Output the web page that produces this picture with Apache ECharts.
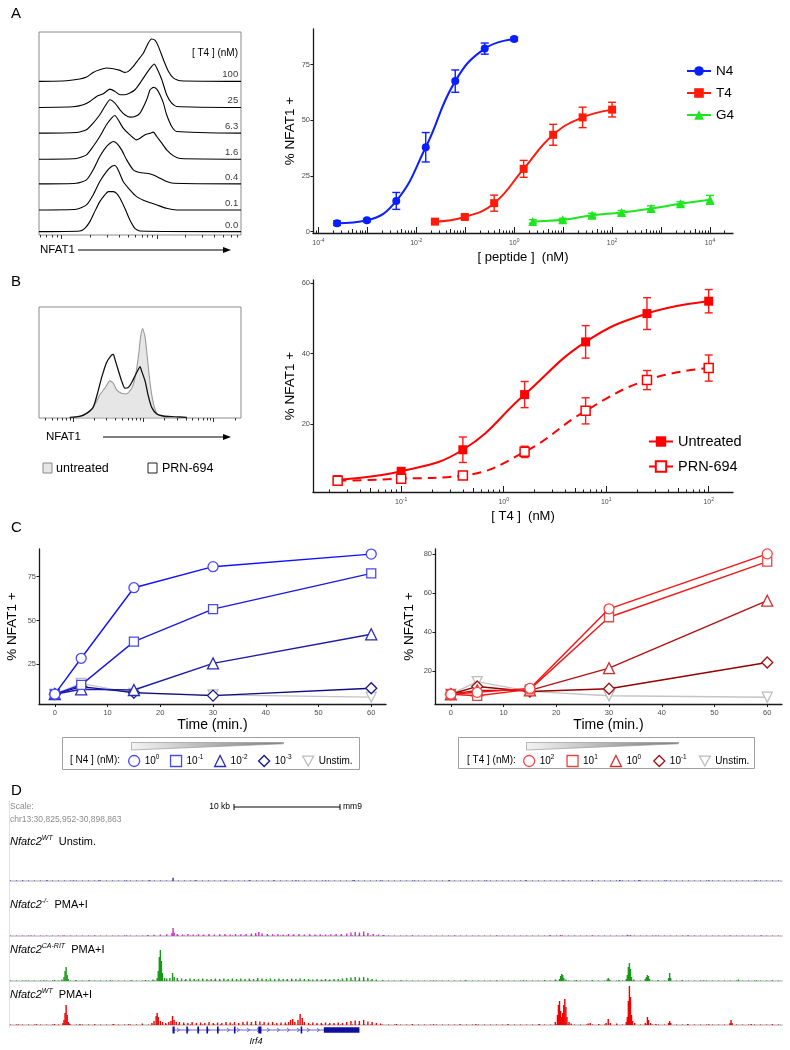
<!DOCTYPE html>
<html>
<head>
<meta charset="utf-8">
<title>NFAT1</title>
<script src="https://cdn.jsdelivr.net/npm/echarts/dist/echarts.min.js"></script>
<style>
  html, body { margin: 0; padding: 0; background: #fff; }
  #main { width: 790px; height: 1050px; }
</style>
</head>
<body>
<div id="main"></div>
<script>
// ---------- data ----------
// A: NFAT1 histograms (log channel 0-100, counts) per [T4] dose
var histDoses = ['100', '25', '6.3', '1.6', '0.4', '0.1', '0.0'];
var hist100 = [[13.6,2],[20.2,7],[23.5,13],[26.8,27],[30.1,35],[33.4,40],[36.8,38],[40.1,33],[42.5,27],[44.2,30],[46.7,45],[49.2,65],[51.7,85],[54.1,115],[55.8,127],[57.5,123],[59.1,105],[61.6,65],[64.1,30],[66.6,10],[69.9,2]];
var hist25 = [[16.9,2],[21.9,8],[25.2,18],[28.5,33],[31.8,41],[35.1,55],[37.6,48],[40.1,38],[42.5,38],[45.0,43],[47.5,53],[50.0,73],[53.3,103],[55.8,123],[57.0,130],[58.3,118],[60.8,83],[63.2,38],[65.7,13],[68.2,3]];
var hist6 = [[18.5,2],[23.5,10],[26.8,30],[30.1,55],[32.6,80],[35.1,100],[37.6,90],[40.1,70],[42.5,55],[45.0,48],[47.5,50],[50.0,60],[53.3,100],[55.0,130],[56.6,137],[58.3,132],[59.9,115],[61.6,90],[63.2,55],[65.7,20],[68.2,5]];
var hist16 = [[18.5,2],[23.5,13],[26.8,38],[30.1,68],[33.4,103],[35.9,123],[37.6,131],[39.2,118],[41.7,93],[45.0,73],[48.3,58],[50.0,63],[52.5,73],[55.0,78],[56.6,81],[58.3,68],[60.8,48],[63.2,28],[66.6,10],[69.9,2]];
var hist04 = [[18.5,2],[23.5,12],[26.8,42],[30.1,82],[33.4,112],[36.8,127],[38.4,122],[40.9,102],[43.4,72],[46.7,42],[50.0,34],[53.3,32],[56.6,27],[59.9,17],[63.2,7],[66.6,2]];
var hist01 = [[18.5,2],[23.5,15],[26.8,45],[30.1,85],[33.4,115],[35.9,130],[37.6,133],[39.2,120],[41.7,85],[45.0,60],[48.3,40],[53.3,25],[58.3,15],[63.2,5],[68.2,0]];
var hist00 = [[20.2,2],[22.7,10],[25.2,30],[27.6,60],[30.1,90],[32.6,110],[34.3,120],[36.8,120],[38.4,115],[40.1,100],[42.5,70],[45.0,35],[47.5,10],[50.0,2]];
var histA = [hist100, hist25, hist6, hist16, hist04, hist01, hist00];

// A: dose response (% NFAT1+ vs peptide nM)
var n4Conc = [0.00024, 0.00098, 0.0039, 0.0156, 0.0625, 0.25, 1];
var n4Pct  = [3.8, 5.1, 13.8, 37.9, 67.6, 82.2, 86.5];
var n4Err  = [1.0, 0.7, 3.8, 6.6, 5.0, 2.5, 0.8];
var t4Conc = [0.024, 0.098, 0.39, 1.56, 6.25, 25, 100];
var t4Pct  = [4.5, 6.6, 12.8, 28.2, 43.5, 51.3, 54.8];
var t4Err  = [0.8, 1.0, 3.6, 3.8, 4.7, 4.6, 3.3];
var g4Conc = [2.4, 9.8, 39, 156, 625, 2500, 10000];
var g4Pct  = [4.6, 5.3, 7.4, 8.6, 10.4, 12.5, 14.3];
var g4Err  = [0.8, 0.7, 0.9, 0.9, 1.2, 0.9, 2.0];

// B: histograms untreated vs PRN-694
var histUntr = [[16.9,0],[21.9,6],[25.2,18],[28.5,48],[30.1,68],[32.6,88],[35.1,110],[36.8,103],[38.4,83],[40.9,73],[43.4,71],[45.9,88],[47.5,118],[49.2,183],[50.3,243],[51.3,268],[52.5,243],[53.6,183],[55.0,103],[56.6,43],[58.3,13],[60.8,3],[63.2,0]];
var histPrn = [[15.2,0],[20.2,3],[23.5,12],[26.8,30],[29.3,80],[31.0,120],[33.4,165],[35.9,188],[36.8,190],[37.6,175],[39.2,143],[40.9,110],[42.5,88],[44.2,90],[45.9,105],[47.5,125],[49.2,145],[50.0,153],[50.8,140],[52.5,110],[54.1,65],[55.8,30],[58.3,10],[61.6,4],[66.6,2],[73.2,0]];

// B: dose response
var bConc    = [0.024, 0.1, 0.4, 1.6, 6.3, 25, 100];
var untrPct  = [4.35, 6.7, 12.8, 28.4, 43.3, 51.3, 54.8];
var untrErr  = [0.5, 1.0, 3.6, 3.7, 4.6, 4.5, 3.3];
var prnPct   = [4.0, 4.6, 5.5, 12.2, 23.8, 32.5, 35.9];
var prnErr   = [0.5, 0.6, 0.5, 1.6, 3.7, 2.7, 3.7];

// C: time courses
var timeMin = [0, 5, 15, 30, 60];
var n4Names = ['10^0', '10^-1', '10^-2', '10^-3', 'Unstim.'];
var n4Time = [
  [7.9, 28.4, 68.7, 80.7, 87.9],
  [7.9, 13.2, 37.9, 56.5, 76.9],
  [7.9, 10.7, 10.3, 25.5, 42.1],
  [7.9, 12.2, 8.8, 7.1, 11.3],
  [7.9, 14.1, 8.4, 7.5, 6.2]
];
var t4Names = ['10^2', '10^1', '10^0', '10^-1', 'Unstim.'];
var t4Time = [
  [8.0, 9.0, 11.0, 51.8, 80.0],
  [8.0, 7.2, 10.5, 47.5, 76.0],
  [8.0, 10.0, 10.0, 21.4, 56.0],
  [8.0, 12.0, 9.4, 10.8, 24.3],
  [8.0, 14.5, 9.5, 7.2, 6.5]
];

// D: genome tracks, position in kb from chr13:30,825,952, signal
var regionKb = 72.911;
var trkWtUnstim = [[1.2,0.6],[3.5,0.8],[6.0,0.6],[8.4,0.8],[11.0,0.6],[13.2,0.8],[15.4,3.2],[17.5,0.8],[20.3,0.6],[22.6,0.8],[24.9,0.6],[27.0,0.8],[29.8,0.6],[32.5,0.9],[35.0,0.6],[38.2,0.6],[41.5,0.8],[45.0,0.6],[48.7,0.8],[52.3,0.6],[55.0,0.8],[57.6,0.9],[59.4,1.0],[62.0,0.6],[66.0,0.8],[70.5,0.6]];
var trkKo = [[2,0.6],[5,0.6],[8,0.6],[11,0.6],[13,1],[13.6,1.2],[14.2,1.5],[14.8,1.8],[15.3,3],[15.4,8],[15.5,3.5],[15.8,2],[16.3,1.5],[16.8,2],[17.3,1.5],[17.8,1.8],[18.3,1.5],[18.8,2],[19.3,1.5],[19.8,1.8],[20.3,2],[20.8,1.5],[21.3,2],[21.8,1.8],[22.3,2],[22.8,2.5],[23.2,3],[23.5,4],[23.8,2.5],[24.3,2],[24.8,1.8],[25.3,2],[25.8,1.5],[26.3,2],[26.8,1.8],[27.3,2],[27.8,1.5],[28.3,1.8],[28.8,1.5],[29.3,1.8],[29.8,1.5],[30.3,1.8],[30.8,2],[31.3,2],[31.8,2.5],[32.2,3.5],[32.6,4],[33.0,3.5],[33.4,4.5],[33.8,3],[34.3,2],[34.8,1.5],[35.3,1],[38,0.6],[42,0.6],[46,0.6],[51,1],[52,1],[55,0.6],[58.3,1.2],[58.6,1],[61,0.6],[64,0.6],[68,0.6],[71,0.6]];
var trkCaRit = [[1.5,0.6],[3.2,0.8],[4.2,1],[4.9,1.5],[5.1,4],[5.2,10],[5.3,14],[5.4,6],[5.5,2],[6.2,1],[7.5,0.6],[9.5,0.8],[11.5,0.8],[12.8,1],[13.5,1.5],[13.9,3],[14.0,10],[14.1,24],[14.2,31],[14.3,20],[14.4,8],[14.6,3],[14.8,2.5],[15.1,3],[15.35,8],[15.5,4],[15.8,3],[16.2,2.5],[16.6,2],[17.0,2.5],[17.4,2],[17.8,2],[18.2,2.5],[18.6,2],[19.0,2],[19.4,2.5],[19.8,2],[20.2,2.5],[20.6,2],[21.0,2.5],[21.4,2],[21.8,2.5],[22.2,2],[22.6,2.5],[23.0,2],[23.4,3],[23.8,2.5],[24.2,2],[24.6,2.5],[25.0,2],[25.4,2.5],[25.8,2],[26.2,2],[26.6,2.5],[27.0,2],[27.4,2.5],[27.8,2],[28.2,2],[28.6,1.5],[29.0,2],[29.4,1.5],[29.8,2],[30.2,1.5],[30.6,2],[31.0,2],[31.4,2.5],[31.8,3],[32.2,3.5],[32.6,4],[33.0,3.5],[33.4,4],[33.8,3],[34.2,2],[34.6,1.5],[35.2,1],[37,0.6],[40,0.6],[43,0.8],[46,0.6],[48.5,0.8],[50.5,1],[51.5,1.5],[51.9,2],[52.0,5],[52.1,7],[52.2,6],[52.3,3],[52.5,1.5],[53.5,1],[55,1],[56.4,1.5],[56.5,3],[56.6,1.5],[57.5,1],[58.2,2],[58.3,6],[58.4,14],[58.5,18],[58.6,12],[58.7,4],[58.9,1.5],[60.0,2],[60.1,4],[60.2,6],[60.3,5],[60.4,2],[61.2,1],[62.2,3],[62.3,8],[62.4,3],[63.5,0.8],[65.5,0.6],[68.8,1.5],[70.5,0.6],[72,0.6]];
var trkWtPma = [[0.8,0.6],[2.5,0.8],[4.2,1],[5.0,2],[5.1,5],[5.2,12],[5.3,20],[5.4,10],[5.5,3],[5.6,1.5],[6.6,1],[8.0,0.8],[9.8,1],[11.2,0.8],[12.5,1.5],[13.4,2],[13.6,4],[13.8,9],[13.9,12],[14.0,8],[14.2,4],[14.4,3],[14.7,2],[15.0,3],[15.2,4],[15.35,9],[15.5,5],[15.7,3],[16.0,3],[16.4,2.5],[16.8,2],[17.2,3],[17.6,2],[18.0,2.5],[18.4,2],[18.8,3],[19.2,2],[19.6,2.5],[20.0,2],[20.4,3],[20.8,2.5],[21.2,3],[21.6,2],[22.0,3],[22.4,3.5],[22.8,3],[23.2,4],[23.6,3.5],[24.0,3],[24.4,2.5],[24.8,3],[25.2,2],[25.6,2.5],[26.0,2.5],[26.3,3],[26.5,5],[26.7,6],[26.9,3],[27.2,5],[27.4,11],[27.6,7],[27.8,3],[28.2,2],[28.6,2.5],[29.0,2],[29.4,2],[29.8,2.5],[30.2,2],[30.6,2],[31.0,2.5],[31.4,2],[31.8,3],[32.2,4],[32.6,4.5],[33.0,4],[33.4,5],[33.8,3.5],[34.2,3],[34.6,2],[35.0,1.5],[36.5,1],[38.0,1],[40.0,0.8],[42.5,0.8],[44.0,1],[47.0,0.8],[50.0,1],[51.5,3],[51.7,10],[51.8,20],[51.9,24],[52.0,14],[52.1,8],[52.2,12],[52.3,20],[52.4,26],[52.5,18],[52.6,8],[52.8,3],[53.0,1.5],[54.6,1.5],[54.8,2],[55.6,1],[56.3,2],[56.5,6],[56.7,2],[57.3,1.5],[58.2,3],[58.3,8],[58.4,24],[58.5,39],[58.6,28],[58.7,10],[58.8,4],[59.0,2],[60.0,2],[60.2,8],[60.3,5],[60.5,2],[61.0,1],[62.2,2],[62.3,4],[62.4,2],[64.0,1],[66.0,0.8],[68.0,2],[68.1,5],[68.2,2],[70.0,1],[72.0,0.8]];
// Irf4 gene model (kb): [start, end, kind] 0 = intron span, 1 = exon, 2 = UTR block
var irf4Model = [[15.35,33.0,0],[15.35,15.55,1],[16.65,16.8,1],[17.7,17.85,1],[18.55,18.7,1],[19.55,19.7,1],[21.15,21.3,1],[23.45,23.75,1],[27.45,27.6,1],[29.64,33.0,2]];

// ---------- helpers ----------
var FONT = 'Liberation Sans, Arial, Helvetica, sans-serif';
var AX = '#1a1a1a', TICKLAB = '#4d4d4d';

function logTicks(lo, hi, which) {
  var out = [];
  for (var d = Math.floor(lo) - 1; d <= Math.ceil(hi); d++) {
    for (var k = 1; k < 10; k++) {
      var v = d + Math.log10(k);
      if (v < lo - 1e-9 || v > hi + 1e-9) continue;
      if (which === 'major' && k === 1) out.push(v);
      else if (which === 'mid' && k === 5) out.push(v);
      else if (which === 'short' && k !== 1 && k !== 5) out.push(v);
    }
  }
  return out;
}
// flow histogram axis ticks (decade start d0, width w, in channel units)
function histTicks(d0, w, major) {
  var out = [];
  for (var j = -2; j <= 2; j++) {
    for (var k = 1; k < 10; k++) {
      var v = d0 + w * (j + Math.log10(k));
      if (v < 0 || v > 100) continue;
      if ((k === 1) === major) out.push(v);
    }
  }
  return out;
}
var supRich = {
  b: { fontSize: 7, color: TICKLAB, lineHeight: 10 },
  s: { fontSize: 5, color: TICKLAB, verticalAlign: 'top' }
};
function pow10Label(v) { return '{b|10}{s|' + Math.round(v) + '}'; }

function logXAxes(grid, lo, hi, labels, name) {
  var base = { gridIndex: grid, type: 'value', position: 'bottom', min: lo, max: hi, splitLine: { show: false } };
  return [
    Object.assign({}, base, {
      axisLine: { show: true, onZero: false, lineStyle: { color: AX, width: 1.3 } },
      axisTick: { show: true, inside: true, length: 6, customValues: logTicks(lo, hi, 'major'), lineStyle: { color: AX } },
      axisLabel: { customValues: labels, formatter: pow10Label, rich: supRich, margin: 5 },
      name: name, nameLocation: 'middle', nameGap: 18, nameMoveOverlap: false,
      nameTextStyle: { fontSize: 13, color: '#000', fontFamily: FONT }
    }),
    Object.assign({}, base, {
      axisLine: { show: false, onZero: false }, axisLabel: { show: false },
      axisTick: { show: true, inside: true, length: 4, customValues: logTicks(lo, hi, 'mid'), lineStyle: { color: AX } }
    }),
    Object.assign({}, base, {
      axisLine: { show: false, onZero: false }, axisLabel: { show: false },
      axisTick: { show: true, inside: true, length: 2.5, customValues: logTicks(lo, hi, 'short'), lineStyle: { color: AX } }
    })
  ];
}
function histXAxes(grid, d0, w) {
  var base = { gridIndex: grid, type: 'value', position: 'bottom', min: 0, max: 100, splitLine: { show: false },
    axisLine: { show: false, onZero: false }, axisLabel: { show: false } };
  return [
    Object.assign({}, base, { axisTick: { show: true, length: 4, customValues: histTicks(d0, w, true), lineStyle: { color: '#333' } } }),
    Object.assign({}, base, { axisTick: { show: true, length: 2.5, customValues: histTicks(d0, w, false), lineStyle: { color: '#333' } } })
  ];
}
function valueYAxis(grid, lo, hi, labels, name, gap) {
  return {
    gridIndex: grid, type: 'value', min: lo, max: hi, splitLine: { show: false },
    axisLine: { show: true, onZero: false, lineStyle: { color: AX, width: 1.3 } },
    axisTick: { show: true, length: 2.5, customValues: labels, lineStyle: { color: AX } },
    axisLabel: { customValues: labels, fontSize: 7.5, color: TICKLAB, margin: 3 },
    name: name, nameLocation: 'middle', nameGap: gap, nameRotate: 90, nameMoveOverlap: false,
    nameTextStyle: { fontSize: 13.5, color: '#000', fontFamily: FONT }
  };
}
function errSeries(name, color, xi, yi, data) {
  return {
    type: 'custom', name: name, xAxisIndex: xi, yAxisIndex: yi, data: data, z: 2, silent: true,
    renderItem: function (params, api) {
      var x = api.value(0), y = api.value(1), e = api.value(2);
      var hi = api.coord([x, y + e]), lo = api.coord([x, y - e]);
      var w = 4, st = { stroke: color, lineWidth: 1.4 };
      return { type: 'group', children: [
        { type: 'line', shape: { x1: hi[0], y1: hi[1], x2: lo[0], y2: lo[1] }, style: st },
        { type: 'line', shape: { x1: hi[0] - w, y1: hi[1], x2: hi[0] + w, y2: hi[1] }, style: st },
        { type: 'line', shape: { x1: lo[0] - w, y1: lo[1], x2: lo[0] + w, y2: lo[1] }, style: st }
      ] };
    }
  };
}
function logPts(conc, vals) { return conc.map(function (c, i) { return [Math.log10(c), vals[i]]; }); }
function logErr(conc, vals, errs) { return conc.map(function (c, i) { return [Math.log10(c), vals[i], errs[i]]; }); }
function txt(x, y, s, size, extra) {
  return { type: 'text', x: x, y: y, silent: true, z: 50,
    style: Object.assign({ text: s, fontSize: size, fontFamily: FONT, fill: '#000', align: 'left', verticalAlign: 'middle' }, extra || {}) };
}
function hline(x1, x2, y, color, w) {
  return { type: 'line', silent: true, z: 50, shape: { x1: x1, y1: y, x2: x2, y2: y }, style: { stroke: color, lineWidth: w || 1 } };
}
function arrow(x1, x2, y) {
  return [hline(x1, x2 - 4, y, '#000', 1.2),
    { type: 'polygon', silent: true, z: 50, shape: { points: [[x2 - 8, y - 3], [x2, y], [x2 - 8, y + 3]] }, style: { fill: '#000' } }];
}

// ---------- layout ----------
var histOffsetsA = [450, 372, 295, 217, 143, 65, 0];

var grids = [
  { left: 39, top: 32, width: 202, height: 203, show: true, borderColor: '#8a8a8a', borderWidth: 1 }, // 0 A hist
  { left: 313, top: 29, width: 420, height: 204 },                                                     // 1 A dose
  { left: 39, top: 307, width: 202, height: 111, show: true, borderColor: '#8a8a8a', borderWidth: 1 }, // 2 B hist
  { left: 313, top: 280, width: 420, height: 212 },                                                    // 3 B dose
  { left: 39, top: 549, width: 347, height: 155 },                                                     // 4 C N4
  { left: 435, top: 549, width: 347, height: 155 },                                                    // 5 C T4
  { left: 10, top: 851, width: 772, height: 30 },                                                      // 6 track blue
  { left: 10, top: 910, width: 772, height: 26 },                                                      // 7 track magenta
  { left: 10, top: 950, width: 772, height: 31 },                                                      // 8 track green
  { left: 10, top: 985, width: 772, height: 40 },                                                      // 9 track red
  { left: 10, top: 1025, width: 772, height: 10 }                                                      // 10 gene
];

var xAxes = [];
xAxes = xAxes.concat(histXAxes(0, 11.1, 47.2));                                   // 0,1
xAxes = xAxes.concat(logXAxes(1, -4.11, 4.47, [-4, -2, 0, 2, 4], '[ peptide ]  (nM)')); // 2,3,4
xAxes = xAxes.concat(histXAxes(2, 16.9, 34.8));                                   // 5,6
xAxes = xAxes.concat(logXAxes(3, -1.86, 2.237, [-1, 0, 1, 2], '[ T4 ]  (nM)'));   // 7,8,9
[4, 5].forEach(function (g) {                                                    // 10,11
  xAxes.push({
    gridIndex: g, type: 'value', position: 'bottom', min: -3, max: 62.8, splitLine: { show: false },
    axisLine: { show: true, onZero: false, lineStyle: { color: AX, width: 1.3 } },
    axisTick: { show: true, length: 3, customValues: [0, 10, 20, 30, 40, 50, 60], lineStyle: { color: AX } },
    axisLabel: { customValues: [0, 10, 20, 30, 40, 50, 60], fontSize: 7.5, color: TICKLAB, margin: 5 },
    name: 'Time (min.)', nameLocation: 'middle', nameGap: 14, nameMoveOverlap: false,
    nameTextStyle: { fontSize: 14, color: '#000', fontFamily: FONT }
  });
});
[6, 7, 8, 9].forEach(function (g) {                                              // 12-15
  xAxes.push({ gridIndex: g, type: 'value', position: 'bottom', min: 0, max: regionKb, splitLine: { show: false },
    axisLine: { show: true, onZero: false, lineStyle: { color: '#d2d2d2', width: 2 } }, axisTick: { show: false }, axisLabel: { show: false } });
});
xAxes.push({ gridIndex: 10, type: 'value', min: 0, max: regionKb, show: false });  // 16

var yAxes = [
  { gridIndex: 0, type: 'value', min: -10, max: 598, show: false },
  valueYAxis(1, -0.6, 91, [0, 25, 50, 75], '% NFAT1 +', 16),
  { gridIndex: 2, type: 'value', min: -2, max: 333, show: false },
  valueYAxis(3, 0.85, 60.8, [20, 40, 60], '% NFAT1 +', 16),
  valueYAxis(4, 2.3, 90.8, [25, 50, 75], '% NFAT1 +', 20),
  valueYAxis(5, 3, 82.5, [20, 40, 60, 80], '% NFAT1 +', 19)
];
[[6, 30], [7, 26], [8, 31], [9, 40]].forEach(function (t) {
  yAxes.push({ gridIndex: t[0], type: 'value', min: 0, max: t[1], show: false });
});
yAxes.push({ gridIndex: 10, type: 'value', min: 0, max: 1, show: false });

// ---------- series ----------
var series = [];

// A histograms
histA.forEach(function (pts, i) {
  var off = histOffsetsA[i];
  var d = [[0, off]];
  pts.forEach(function (p) { d.push([p[0], p[1] + off]); });
  d.push([100, off]);
  series.push({ type: 'line', name: 'histA' + i, xAxisIndex: 0, yAxisIndex: 0, data: d, smooth: 0.2,
    symbol: 'none', silent: true, lineStyle: { color: '#000', width: 1.1 } });
});
series.push({ type: 'scatter', name: 'histA labels', xAxisIndex: 0, yAxisIndex: 0, symbolSize: 0, silent: true,
  data: histDoses.map(function (d, i) { return [98.6, histOffsetsA[i] + 20, d]; }),
  label: { show: true, position: 'left', distance: 0, fontSize: 9.5, color: '#000', formatter: function (p) { return p.value[2]; } } });

// A dose response
var doseSets = [
  ['N4', '#0a1eff', 'circle', 8, n4Conc, n4Pct, n4Err],
  ['T4', '#ff1a0a', 'rect', 8, t4Conc, t4Pct, t4Err],
  ['G4', '#1ee61e', 'triangle', 9, g4Conc, g4Pct, g4Err]
];
doseSets.forEach(function (s) {
  series.push(errSeries(s[0] + ' err', s[1], 2, 1, logErr(s[4], s[5], s[6])));
  series.push({ type: 'line', name: s[0], xAxisIndex: 2, yAxisIndex: 1, data: logPts(s[4], s[5]), smooth: 0.45,
    symbol: s[2], symbolSize: s[3], z: 3, itemStyle: { color: s[1] }, lineStyle: { color: s[1], width: 2 } });
});

// B histograms
series.push({ type: 'line', name: 'untreated hist', xAxisIndex: 5, yAxisIndex: 2, data: histUntr, smooth: 0.2, symbol: 'none', silent: true,
  lineStyle: { color: '#9a9a9a', width: 1.1 }, areaStyle: { color: '#e6e6e6', opacity: 1, origin: 0 } });
series.push({ type: 'line', name: 'PRN hist', xAxisIndex: 5, yAxisIndex: 2, data: histPrn, smooth: 0.2, symbol: 'none', silent: true,
  lineStyle: { color: '#111', width: 1.3 } });

// B dose response
series.push(errSeries('Untreated err', '#ff1a1a', 7, 3, logErr(bConc, untrPct, untrErr)));
series.push(errSeries('PRN err', '#ff1a1a', 7, 3, logErr(bConc, prnPct, prnErr)));
series.push({ type: 'line', name: 'Untreated', xAxisIndex: 7, yAxisIndex: 3, data: logPts(bConc, untrPct), smooth: 0.45,
  symbol: 'rect', symbolSize: 9, z: 4, itemStyle: { color: '#ff0000' }, lineStyle: { color: '#ff0000', width: 2 } });
series.push({ type: 'line', name: 'PRN-694', xAxisIndex: 7, yAxisIndex: 3, data: logPts(bConc, prnPct), smooth: 0.45,
  symbol: 'rect', symbolSize: 9, z: 4, itemStyle: { color: '#fff', borderColor: '#ff0000', borderWidth: 1.5 },
  lineStyle: { color: '#ff0000', width: 2, type: [9, 6] } });

// C time courses
var cSymbols = ['circle', 'rect', 'triangle', 'diamond', 'path://M0,0L10,0L5,9Z'];
var cSymSize = [10, 9, 11, 11, 10];
var cLineN4 = ['#1010ff', '#1a1ae0', '#1c1ca8', '#0d0d80', '#c4c4c4'];
var cMarkN4 = ['#4848ff', '#4a4ae8', '#2a2ab8', '#15158a', '#bdbdbd'];
var cLineT4 = ['#ff1010', '#f01818', '#b31010', '#960000', '#c4c4c4'];
var cMarkT4 = ['#ff4040', '#e04848', '#d03030', '#a01010', '#bdbdbd'];
function timeSeries(prefix, names, vals, lines, marks, xi, yi) {
  for (var i = names.length - 1; i >= 0; i--) {
    series.push({ type: 'line', name: prefix + ':' + names[i], xAxisIndex: xi, yAxisIndex: yi,
      data: timeMin.map(function (t, j) { return [t, vals[i][j]]; }),
      symbol: cSymbols[i], symbolSize: cSymSize[i], z: 3 + (names.length - i),
      itemStyle: { color: '#fff', borderColor: marks[i], borderWidth: 1.3 },
      lineStyle: { color: lines[i], width: 1.4 } });
  }
}
timeSeries('N4', n4Names, n4Time, cLineN4, cMarkN4, 10, 4);
timeSeries('T4', t4Names, t4Time, cLineT4, cMarkT4, 11, 5);

// D tracks
var tracks = [[trkWtUnstim, '#3030c8'], [trkKo, '#c832c8'], [trkCaRit, '#179a17'], [trkWtPma, '#ee0000']];
tracks.forEach(function (t, i) {
  series.push({ type: 'line', name: 'trk bg' + i, xAxisIndex: 12 + i, yAxisIndex: 6 + i, data: [[0, 0.5], [regionKb, 0.5]],
    symbol: 'none', silent: true, lineStyle: { color: t[1], width: 1, type: [1, 5], opacity: 0.55 } });
  series.push({ type: 'bar', name: 'trk' + i, xAxisIndex: 12 + i, yAxisIndex: 6 + i, data: t[0], barWidth: 1.4,
    silent: true, itemStyle: { color: t[1] } });
});
series.push({ type: 'custom', name: 'Irf4', xAxisIndex: 16, yAxisIndex: 10, data: irf4Model, silent: true,
  renderItem: function (params, api) {
    var s = api.coord([api.value(0), 0.5]), e = api.coord([api.value(1), 0.5]), kind = api.value(2);
    if (kind === 0) {
      var ch = [{ type: 'line', shape: { x1: s[0], y1: s[1], x2: e[0], y2: e[1] }, style: { stroke: '#6a6ad8', lineWidth: 1 } }];
      for (var x = s[0] + 6; x < e[0] - 3; x += 10) {
        ch.push({ type: 'polyline', shape: { points: [[x - 1.5, s[1] - 2], [x + 1, s[1]], [x - 1.5, s[1] + 2]] }, style: { stroke: '#4a4ad0', lineWidth: 0.8, fill: null } });
      }
      return { type: 'group', children: ch };
    }
    var h = kind === 1 ? 7 : 5.5;
    return { type: 'rect', shape: { x: s[0], y: s[1] - h / 2, width: Math.max(e[0] - s[0], 1.6), height: h }, style: { fill: '#0f0f9c' } };
  } });

// ---------- legends ----------
function cLegendFmt(name) {
  var t = name.split(':')[1];
  if (t.indexOf('10^') === 0) return '{b|10}{s|' + t.slice(3) + '}';
  return '{b|' + t + '}';
}
function cLegend(prefix, names, marks, left, gap) {
  return {
    left: left, top: 749, itemWidth: 11, itemHeight: 11, itemGap: gap, selectedMode: false,
    formatter: cLegendFmt,
    textStyle: { fontFamily: FONT, rich: { b: { fontSize: 10, color: '#000', lineHeight: 14 }, s: { fontSize: 6.5, color: '#000', verticalAlign: 'top' } } },
    data: names.map(function (n, i) {
      return { name: prefix + ':' + n, icon: cSymbols[i], itemStyle: { color: '#fff', borderColor: marks[i], borderWidth: 1.3 } };
    })
  };
}
var legends = [
  { left: 681, top: 59, orient: 'vertical', itemWidth: 24, itemHeight: 12, itemGap: 8, selectedMode: false,
    textStyle: { fontSize: 13.5, color: '#000', fontFamily: FONT }, data: ['N4', 'T4', 'G4'] },
  { left: 643, top: 429, orient: 'vertical', itemWidth: 24, itemHeight: 13, itemGap: 10, selectedMode: false,
    textStyle: { fontSize: 14.5, color: '#000', fontFamily: FONT }, data: ['Untreated', 'PRN-694'] },
  cLegend('N4', n4Names, cMarkN4, 123, 10.5),
  cLegend('T4', t4Names, cMarkT4, 518, 12)
];

// ---------- annotations ----------
var wedgeFill = function () {
  return new echarts.graphic.LinearGradient(0, 0, 1, 0, [{ offset: 0, color: '#f4f4f4' }, { offset: 1, color: '#7a7a7a' }]);
};
var trackRich = {
  i: { fontStyle: 'italic', fontSize: 11, fontFamily: FONT, lineHeight: 15 },
  p: { fontStyle: 'italic', fontSize: 7, fontFamily: FONT, verticalAlign: 'top' },
  n: { fontSize: 11, fontFamily: FONT }
};
var elements = [
  txt(11, 14, 'A', 15), txt(11, 282, 'B', 15), txt(11, 528, 'C', 15), txt(11, 791, 'D', 15),
  txt(238, 53, '[ T4 ] (nM)', 10, { align: 'right' }),
  txt(40, 250, 'NFAT1', 11.5),
  txt(46, 437, 'NFAT1', 11.5),
  { type: 'rect', silent: true, z: 50, shape: { x: 43, y: 463, width: 9, height: 10 }, style: { fill: '#e6e6e6', stroke: '#8a8a8a', lineWidth: 1 } },
  txt(56, 468.5, 'untreated', 12.5),
  { type: 'rect', silent: true, z: 50, shape: { x: 148, y: 463, width: 9, height: 10 }, style: { fill: '#fff', stroke: '#222', lineWidth: 1 } },
  txt(162, 468.5, 'PRN-694', 12.5),
  // C legend frames
  { type: 'rect', silent: true, z: 1, shape: { x: 62.5, y: 737.5, width: 297, height: 32 }, style: { fill: '#fff', stroke: '#a0a0a0', lineWidth: 1 } },
  { type: 'polygon', silent: true, z: 50, shape: { points: [[131.5, 742.5], [283.5, 742.5], [283.5, 743.8], [131.5, 750]] }, style: { fill: wedgeFill(), stroke: '#9a9a9a', lineWidth: 0.7 } },
  txt(70, 760.5, '[ N4 ] (nM):', 10),
  { type: 'rect', silent: true, z: 1, shape: { x: 458.5, y: 737.5, width: 296, height: 31 }, style: { fill: '#fff', stroke: '#a0a0a0', lineWidth: 1 } },
  { type: 'polygon', silent: true, z: 50, shape: { points: [[526.5, 742.5], [678.5, 742.5], [678.5, 743.8], [526.5, 750]] }, style: { fill: wedgeFill(), stroke: '#9a9a9a', lineWidth: 0.7 } },
  txt(467, 760.5, '[ T4 ] (nM):', 10),
  // D header
  txt(10, 807, 'Scale:', 8.5, { fill: '#8c8c8c' }),
  txt(10, 820, 'chr13:30,825,952-30,898,863', 8.5, { fill: '#8c8c8c' }),
  txt(230, 807, '10 kb', 8.5, { align: 'right' }),
  hline(234, 340, 807, '#000', 1),
  { type: 'line', silent: true, z: 50, shape: { x1: 234, y1: 804, x2: 234, y2: 810 }, style: { stroke: '#000', lineWidth: 1 } },
  { type: 'line', silent: true, z: 50, shape: { x1: 340, y1: 804, x2: 340, y2: 810 }, style: { stroke: '#000', lineWidth: 1 } },
  txt(343, 807, 'mm9', 8.5),
  { type: 'line', silent: true, z: 0, shape: { x1: 9.5, y1: 800, x2: 9.5, y2: 1028 }, style: { stroke: '#e0e0e0', lineWidth: 1 } },
  txt(10, 842, '{i|Nfatc2}{p|WT}  {n|Unstim.}', 11, { rich: trackRich }),
  txt(10, 905, '{i|Nfatc2}{p|-/-}  {n|PMA+I}', 11, { rich: trackRich }),
  txt(10, 950, '{i|Nfatc2}{p|CA-RIT}  {n|PMA+I}', 11, { rich: trackRich }),
  txt(10, 995, '{i|Nfatc2}{p|WT}  {n|PMA+I}', 11, { rich: trackRich }),
  txt(256, 1041, 'Irf4', 9, { fontStyle: 'italic', align: 'center' })
];
elements = elements.concat(arrow(78, 231, 250), arrow(103, 231, 437));

var chart = echarts.init(document.getElementById('main'));
chart.setOption({
  animation: false,
  backgroundColor: '#fff',
  textStyle: { fontFamily: FONT },
  grid: grids,
  xAxis: xAxes,
  yAxis: yAxes,
  legend: legends,
  series: series,
  graphic: { elements: elements }
});
</script>
</body>
</html>
